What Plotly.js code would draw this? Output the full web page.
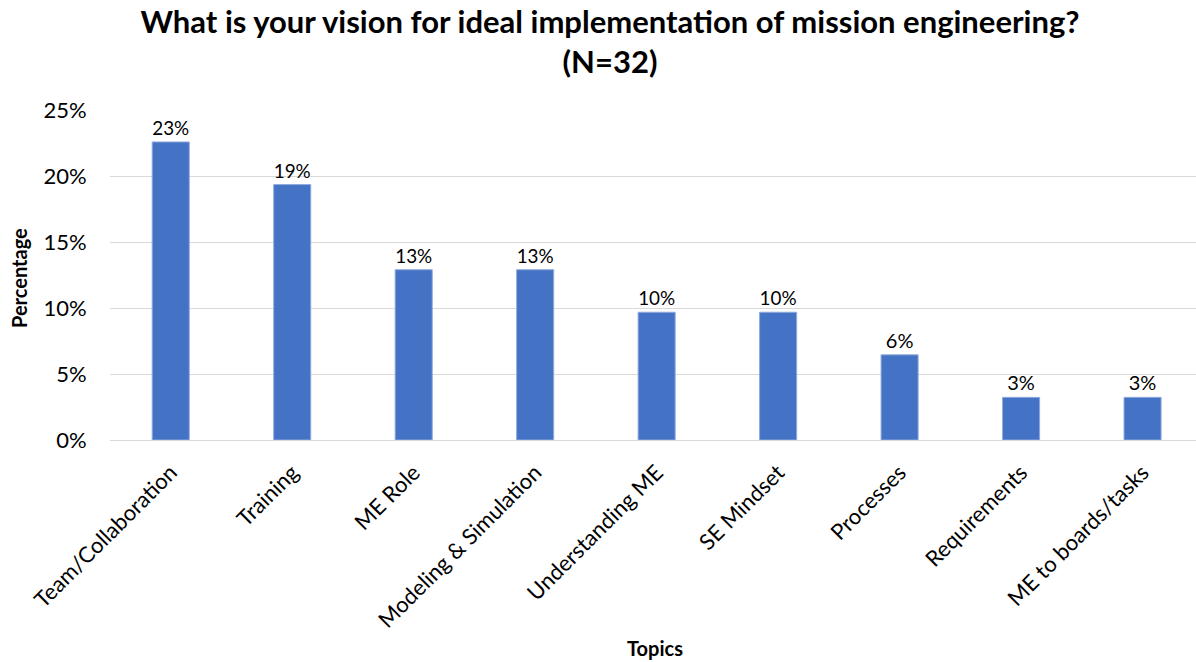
<!DOCTYPE html>
<html>
<head>
<meta charset="utf-8">
<script src="https://cdn.plot.ly/plotly-3.0.1.min.js"></script>
<style>html,body{margin:0;padding:0;background:#fff;}#chart{width:1196px;height:662px;}</style>
</head>
<body>
<div id="chart"></div>
<script>
const topics = ["Team/Collaboration", "Training", "ME Role", "Modeling & Simulation", "Understanding ME", "SE Mindset", "Processes", "Requirements", "ME to boards/tasks"];
const percentages = [22.58, 19.35, 12.90, 12.90, 9.68, 9.68, 6.45, 3.23, 3.23];
const yTickValues = [0, 5, 10, 15, 20, 25];
const yTickLabels = ["0%", "5%", "10%", "15%", "20%", "25%"];

const FONT = "Lato, 'Open Sans', sans-serif";
const H = 662;

const trace = {
  type: "bar",
  x: topics,
  y: percentages,
  marker: { color: "#4472C4", line: { color: "#8FAADC", width: 1 } },
  texttemplate: "%{y:.0f}%",
  textposition: "outside",
  textfont: { family: FONT, size: 20, color: "#000" },
  cliponaxis: false,
  hoverinfo: "x+y"
};

const layout = {
  width: 1196,
  height: H,
  paper_bgcolor: "#fff",
  plot_bgcolor: "#fff",
  margin: { l: 110, r: 0, t: 110, b: 222 },
  bargap: 0.695,
  showlegend: false,
  font: { family: FONT, color: "#000" },
  title: {
    text: "<b>What is your vision for ideal implementation of mission engineering?<br>(N=32)</b>",
    font: { family: FONT, size: 31, color: "#000" },
    x: 610 / 1196, xanchor: "center", xref: "container",
    y: 1 - 33 / H, yanchor: "middle", yref: "container"
  },
  xaxis: {
    range: [-0.5, 8.44],
    tickangle: -45,
    tickfont: { family: FONT, size: 22, color: "#000" },
    showgrid: false,
    showline: false,
    ticks: "outside",
    ticklen: 10,
    tickcolor: "rgba(0,0,0,0)",
    automargin: false
  },
  yaxis: {
    range: [0, 25],
    tickvals: yTickValues,
    ticktext: yTickLabels,
    tickfont: { family: FONT, size: 22, color: "#000" },
    showgrid: true,
    gridcolor: "#D9D9D9",
    gridwidth: 1,
    zeroline: true,
    zerolinecolor: "#D9D9D9",
    zerolinewidth: 1,
    ticks: "outside",
    ticklen: 18,
    tickcolor: "rgba(0,0,0,0)",
    automargin: false
  },
  annotations: [
    { text: "<b>Topics</b>", xref: "paper", yref: "paper", x: (655 - 110) / 1086, y: -(648 - 440) / 330,
      xanchor: "center", yanchor: "middle", showarrow: false, font: { family: FONT, size: 20, color: "#000" } },
    { text: "<b>Percentage</b>", xref: "paper", yref: "paper", x: -(110 - 19) / 1086, y: (440 - 278) / 330,
      xanchor: "center", yanchor: "middle", textangle: -90, showarrow: false, font: { family: FONT, size: 20, color: "#000" } }
  ]
};

Plotly.newPlot("chart", [trace], layout, { displayModeBar: false, staticPlot: true });
</script>
</body>
</html>
